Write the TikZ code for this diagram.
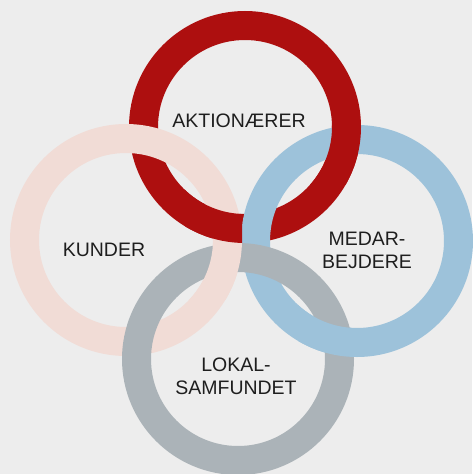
\documentclass[tikz,border=0pt]{standalone}
\usepackage{fontspec}
\setmainfont{Liberation Sans}
\definecolor{bg}{HTML}{EDEDED}
\definecolor{ringred}{HTML}{AD0F0F}
\definecolor{ringpink}{HTML}{F1DCD6}
\definecolor{ringblue}{HTML}{9DC2DA}
\definecolor{ringgray}{HTML}{ABB3B8}
\definecolor{txt}{HTML}{1E1E1E}
\begin{document}
\begin{tikzpicture}[x=1pt,y=-1pt,
  ring/.style={line width=29pt},
  lbl/.style={font=\fontsize{19.5}{23}\selectfont, text=txt, align=center, inner sep=0pt}]
\fill[bg] (0,0) rectangle (472,474);
\useasboundingbox (0,0) rectangle (472,474);
\coordinate (R) at (245,127);
\coordinate (P) at (126,240);
\coordinate (B) at (357,241);
\coordinate (G) at (238,359);
% base rings
\draw[ring, ringred]  (R) circle[radius=101.5];
\draw[ring, ringpink] (P) circle[radius=101.5];
\draw[ring, ringblue] (B) circle[radius=101.5];
\draw[ring, ringgray] (G) circle[radius=101.5];
% red over pink (lower crossing)
\begin{scope}
  \clip (P) circle[radius=118];
  \clip (185,184) rectangle (242,260);
  \draw[ring, ringred] (R) circle[radius=101.5];
\end{scope}
% red over blue (upper crossing)
\begin{scope}
  \clip (B) circle[radius=118];
  \clip (290,90) rectangle (400,184);
  \draw[ring, ringred] (R) circle[radius=101.5];
\end{scope}
% pink over gray (upper crossing)
\begin{scope}
  \clip (G) circle[radius=118];
  \clip (182,243) rectangle (270,299);
  \draw[ring, ringpink] (P) circle[radius=101.5];
\end{scope}
% blue over gray (lower crossing)
\begin{scope}
  \clip (G) circle[radius=118];
  \clip (298,300) rectangle (420,420);
  \draw[ring, ringblue] (B) circle[radius=101.5];
\end{scope}
% labels
\node[lbl] (aktion) at (239,120.5) {AKTIONÆRER};
\node[lbl] (kunder) at (104,249.5) {KUNDER};
\node[lbl] (medar)  at (367,250)   {MEDAR-\\BEJDERE};
\node[lbl] (lokal)  at (236,376.5) {LOKAL-\\SAMFUNDET};
\end{tikzpicture}
\end{document}
